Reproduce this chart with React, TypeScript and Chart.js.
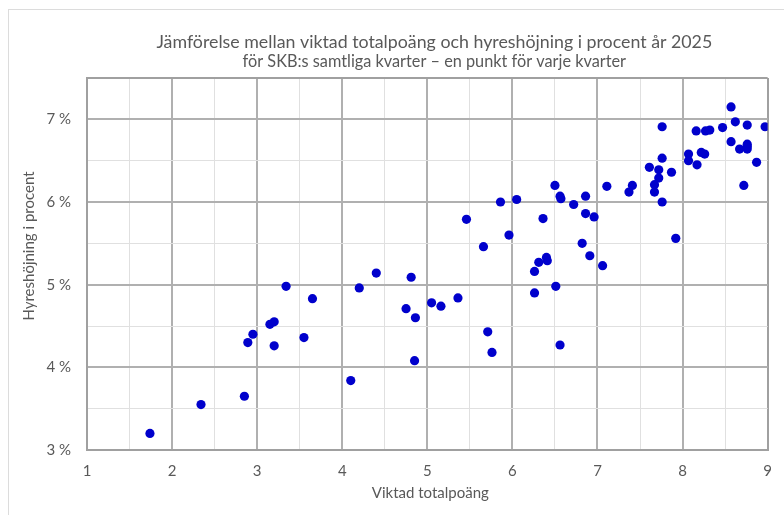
import React, { useEffect, useRef } from 'react';
import { Chart, registerables } from 'chart.js';

Chart.register(...registerables);

const TITLE = 'Jämförelse mellan viktad totalpoäng och hyreshöjning i procent år 2025';
const SUBTITLE = 'för SKB:s samtliga kvarter – en punkt för varje kvarter';
const X_TITLE = 'Viktad totalpoäng';
const Y_TITLE = 'Hyreshöjning i procent';

// x: viktad totalpoäng per kvarter
const viktadPoang = [
  1.74, 2.34, 2.85, 2.89, 2.95, 3.15, 3.2, 3.2, 3.34, 3.55,
  3.65, 4.1, 4.2, 4.4, 4.75, 4.81, 4.86, 4.85, 5.05, 5.16,
  5.36, 5.46, 5.66, 5.71, 5.76, 5.86, 5.96, 6.05, 6.26, 6.26,
  6.31, 6.36, 6.4, 6.41, 6.5, 6.51, 6.56, 6.57, 6.56, 6.72,
  6.82, 6.86, 6.86, 6.91, 6.96, 7.06, 7.11, 7.37, 7.41, 7.61,
  7.72, 7.72, 7.67, 7.67, 7.76, 7.76, 7.76, 7.87, 7.92, 8.07,
  8.07, 8.17, 8.16, 8.22, 8.26, 8.27, 8.32, 8.47, 8.57, 8.57,
  8.62, 8.67, 8.72, 8.76, 8.76, 8.76, 8.76, 8.87, 8.97,
];

// y: hyreshöjning i procent per kvarter
const hyreshojning = [
  3.2, 3.55, 3.65, 4.3, 4.4, 4.52, 4.55, 4.26, 4.98, 4.36,
  4.83, 3.84, 4.96, 5.14, 4.71, 5.09, 4.6, 4.08, 4.78, 4.74,
  4.84, 5.79, 5.46, 4.43, 4.18, 6.0, 5.6, 6.03, 4.9, 5.16,
  5.27, 5.8, 5.33, 5.29, 6.2, 4.98, 6.07, 6.04, 4.27, 5.97,
  5.5, 6.07, 5.86, 5.35, 5.82, 5.23, 6.19, 6.12, 6.2, 6.42,
  6.39, 6.29, 6.21, 6.12, 6.53, 6.91, 6.0, 6.36, 5.56, 6.58,
  6.5, 6.45, 6.86, 6.6, 6.58, 6.86, 6.87, 6.9, 7.15, 6.73,
  6.97, 6.64, 6.2, 6.93, 6.7, 6.67, 6.64, 6.48, 6.91,
];

const X_MIN = 1;
const X_MAX = 9;
const Y_MIN = 3;
const Y_MAX = 7.5;
const STEP = 0.5;

const FONT = 'Lato, "Open Sans", sans-serif';
const TEXT = '#595959';
const MAJOR = '#b0b0b0';
const MINOR = '#e0e0e0';
const EDGE = '#a0a0a0';

const titlePlugin = {
  id: 'customTitles',
  afterDraw(chart: any) {
    const { ctx, chartArea } = chart;
    const cx = (chartArea.left + chartArea.right) / 2 + 7;
    ctx.save();
    ctx.fillStyle = TEXT;
    ctx.textAlign = 'center';
    ctx.textBaseline = 'middle';
    ctx.font = `17.8px ${FONT}`;
    ctx.fillText(TITLE, cx, 42);
    ctx.font = `16.3px ${FONT}`;
    ctx.fillText(SUBTITLE, cx, 62);
    ctx.font = `15px ${FONT}`;
    ctx.fillText(X_TITLE, cx - 4, 493);
    ctx.translate(29, (chartArea.top + chartArea.bottom) / 2 - 18);
    ctx.rotate(-Math.PI / 2);
    ctx.fillText(Y_TITLE, 0, 0);
    ctx.restore();
  },
};

function isEdge(v: number, min: number, max: number) {
  return Math.abs(v - min) < 1e-6 || Math.abs(v - max) < 1e-6;
}
function isMajor(v: number) {
  return Number.isInteger(Math.round(v * 1000) / 1000);
}
function gridColor(ctx: any, min: number, max: number) {
  const v = ctx.tick ? ctx.tick.value : 0;
  if (isEdge(v, min, max)) return EDGE;
  return isMajor(v) ? MAJOR : MINOR;
}
function gridWidth(ctx: any, min: number, max: number) {
  const v = ctx.tick ? ctx.tick.value : 0;
  if (isEdge(v, min, max)) return 2;
  return isMajor(v) ? 2 : 1;
}

export default function App() {
  const ref = useRef<HTMLCanvasElement | null>(null);

  useEffect(() => {
    if (!ref.current) return;
    const points = viktadPoang.map((x, i) => ({ x, y: hyreshojning[i] }));
    const chart = new Chart(ref.current, {
      type: 'scatter',
      data: {
        datasets: [
          {
            label: 'Kvarter',
            data: points,
            backgroundColor: '#0000cc',
            borderWidth: 0,
            pointRadius: 4.6,
            pointHoverRadius: 4.6,
          },
        ],
      },
      plugins: [titlePlugin],
      options: {
        animation: false,
        responsive: false,
        maintainAspectRatio: false,
        devicePixelRatio: 1,
        layout: { padding: { top: 78, right: 11, bottom: 0, left: 0 } },
        plugins: {
          legend: { display: false },
          title: { display: false },
          tooltip: { enabled: false },
        },
        scales: {
          x: {
            type: 'linear',
            min: X_MIN,
            max: X_MAX,
            ticks: {
              stepSize: STEP,
              autoSkip: false,
              maxRotation: 0,
              padding: 12,
              color: TEXT,
              font: { family: FONT, size: 15 },
              callback: (v: any) => (isMajor(v) ? String(v) : ''),
            },
            grid: {
              drawTicks: false,
              color: (c: any) => gridColor(c, X_MIN, X_MAX),
              lineWidth: (c: any) => gridWidth(c, X_MIN, X_MAX),
            },
            border: { display: true, color: EDGE, width: 2 },
            afterFit: (s: any) => {
              s.height = 65;
            },
          },
          y: {
            type: 'linear',
            min: Y_MIN,
            max: Y_MAX,
            ticks: {
              stepSize: STEP,
              autoSkip: false,
              padding: 16,
              color: TEXT,
              font: { family: FONT, size: 15 },
              callback: (v: any) => (isMajor(v) ? `${v} %` : ''),
            },
            grid: {
              drawTicks: false,
              color: (c: any) => gridColor(c, Y_MIN, Y_MAX),
              lineWidth: (c: any) => gridWidth(c, Y_MIN, Y_MAX),
            },
            border: { display: true, color: EDGE, width: 2 },
            afterFit: (s: any) => {
              s.width = 87;
            },
          },
        },
      },
    });
    return () => chart.destroy();
  }, []);

  return (
    <div
      style={{
        position: 'fixed',
        left: 0,
        top: 0,
        width: 784,
        height: 515,
        overflow: 'hidden',
        background: '#ffffff',
      }}
    >
      <div
        style={{
          position: 'absolute',
          left: 8,
          top: 9,
          width: 820,
          height: 560,
          border: '1px solid #dcdcdc',
        }}
      />
      <canvas
        ref={ref}
        width={784}
        height={515}
        style={{ position: 'absolute', left: 0, top: 0, width: 784, height: 515 }}
      />
    </div>
  );
}
